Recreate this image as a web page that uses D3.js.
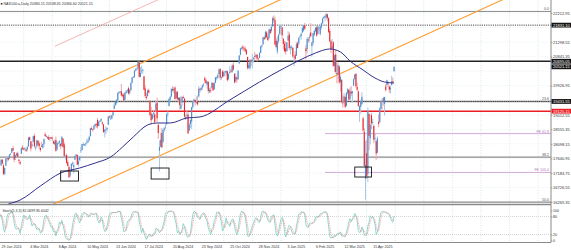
<!DOCTYPE html>
<html>
<head>
<meta charset="utf-8">
<script src="https://cdn.jsdelivr.net/npm/d3@7"></script>
<style>
html, body { margin: 0; padding: 0; background: #fff; }
svg { display: block; font-family: "Liberation Sans", Arial, sans-serif; }
</style>
</head>
<body>
<div id="chart"></div>
<script>
// ---- chart data ----
const title = 'NAS100.a,Daily  20384.15 20538.65 20366.60 20521.15';
const stochTitle = 'Stoch(5,3,3) 82.0699 85.6042';

const dateTickBars = [0, 24, 48, 72, 96, 120, 144, 168, 192, 216, 240, 264, 288, 312];
const dateTickLabels = ['29 Jan 2024', '4 Mar 2024', '8 Apr 2024', '10 May 2024', '13 Jun 2024',
    '17 Jul 2024', '20 Aug 2024', '23 Sep 2024', '25 Oct 2024', '28 Nov 2024', '3 Jan 2025',
    '6 Feb 2025', '12 Mar 2025', '15 Apr 2025'];

const priceTicks = [16269.35, 16726.55, 17183.75, 17640.95, 18098.15, 18555.35, 19012.55,
    19469.75, 19926.95, 20384.15, 20841.35, 21298.55, 21755.75, 22212.95];
const stochTicks = [0, 20, 80, 100];

// horizontal line objects
const dottedLevels = [21831.10, 19431.55];
const blackLevels = [20695.05];
const redLevels = [19125.15];
const bidPrice = 20521.15;

// fibonacci retracement
const fibHigh = 22262, fibLow = 10268.6;
const fibRatios = [0, 23.6, 38.2, 50.0];
// fibonacci expansion
const feLabels = ['FE 61.8', 'FE 100.0'];
const fePrices = [18420, 17200];
const feStartBar = 272;

// trend lines [bar, price]
const channelLower = [[133, 17720], [329, 21060]];
const channelUpper = [[50, 19486], [115, 20593]];
const pinkRay = [[45, 21166], [111, 22280]];

// marked zones [fromBar, toBar, top, bottom]
const zones = [[50, 65, 17244, 16929], [126, 141, 17338, 16992], [297, 311, 17369, 17055]];

// moving average [bar, value]
const maPoints = [[6, 16206], [16, 16332], [33, 16773], [50, 17182], [66, 17339], [79, 17496],
    [92, 17685], [102, 17999], [111, 18314], [123, 18691], [131, 18754], [142, 18754],
    [156, 18911], [167, 18943], [192, 19477], [217, 20043], [238, 20484], [251, 20735],
    [264, 20955], [276, 21081], [285, 20987], [293, 20704], [304, 20420], [314, 20168],
    [322, 20043], [330, 20012]];

// bars left of the visible window (needed by the stochastic)
const warmup = [
[16850,16900,16760,16830],[16830,16880,16720,16850],[16800,16850,16700,16800],
[16830,17020,16800,17020],[17040,17330,17000,17310],[17340,17400,17290,17330],
[17330,17400,17270,17380],[17440,17550,17420,17450],[17470,17520,17380,17500],
[17490,17550,17410,17420]];

// daily [open, high, low, close], 29 Jan 2024 .. 12 May 2025
const ohlc = [
// Jan 29 - Mar 1
[17420,17610,17400,17600],[17600,17620,17470,17480],[17420,17480,17130,17140],[17160,17360,17110,17340],
[17410,17660,17390,17640],[17620,17700,17530,17650],[17660,17690,17560,17600],[17640,17780,17620,17760],
[17770,17810,17730,17790],[17820,17960,17810,17960],[17960,18040,17880,17880],[17830,17840,17520,17600],
[17660,17760,17590,17740],[17730,17830,17700,17800],[17800,17850,17650,17690],[17600,17620,17480,17560],
[17530,17560,17430,17480],[17790,17990,17770,17960],[17980,18060,17900,17940],[17940,18000,17900,17930],
[17940,17990,17880,17960],[17920,17950,17850,17870],[17920,18040,17860,18000],[18020,18300,18000,18300],
// Mar 4 - Apr 5
[18300,18330,18200,18220],[18180,18190,17860,17950],[18040,18160,17990,18080],[18160,18360,18150,18340],
[18350,18420,17980,18020],[17980,18040,17890,17980],[18020,18230,17970,18210],[18200,18210,18040,18070],
[18110,18170,17930,18020],[17970,18000,17850,17900],[18030,18160,18010,18020],[17980,18100,17940,18090],
[18090,18260,18020,18250],[18400,18460,18320,18340],[18330,18380,18300,18340],[18300,18340,18250,18280],
[18310,18370,18230,18230],[18280,18310,18180,18300],[18300,18320,18250,18260],[18290,18330,18180,18280],
[18180,18200,18090,18110],[18080,18230,18050,18160],[18220,18330,17850,17880],[17920,18170,17890,18120],
// Apr 8 - May 9
[18130,18170,18080,18130],[18140,18210,18000,18190],[18100,18120,17930,18030],[18050,18340,18000,18320],
[18260,18280,17980,18000],[18080,18150,17700,17710],[17700,17750,17600,17700],[17740,17790,17490,17490],
[17520,17580,17390,17400],[17370,17420,17040,17040],[17100,17270,17050,17210],[17240,17490,17230,17470],
[17480,17540,17410,17500],[17360,17520,17170,17430],[17600,17740,17580,17720],[17720,17780,17660,17760],
[17750,17760,17440,17440],[17460,17700,17380,17540],[17590,17720,17540,17690],[17880,18000,17810,17890],
[17900,18090,17900,18090],[18090,18150,18040,18090],[18050,18100,18030,18080],[18090,18130,18020,18110],
// May 10 - Jun 12
[18130,18250,18080,18160],[18160,18270,18120,18200],[18210,18350,18170,18320],[18340,18600,18330,18590],
[18590,18650,18540,18550],[18560,18570,18480,18550],[18550,18700,18550,18670],[18660,18740,18620,18720],
[18710,18750,18600,18690],[18850,18910,18580,18650],[18660,18810,18650,18800],[18800,18850,18790,18830],
[18830,18900,18780,18880],[18770,18800,18680,18730],[18710,18720,18440,18470],[18480,18560,18300,18540],
[18560,18650,18400,18560],[18560,18620,18480,18600],[18700,18960,18690,18960],[18960,18990,18900,18940],
[18920,19000,18850,18920],[18900,19010,18860,19000],[19000,19100,18970,19090],[19200,19400,19190,19310],
// Jun 13 - Jul 16
[19320,19410,19280,19410],[19380,19510,19330,19480],[19480,19710,19420,19700],[19700,19760,19650,19730],
[19730,19760,19710,19740],[19750,19980,19580,19620],[19630,19690,19560,19610],[19650,19690,19430,19460],
[19480,19720,19470,19710],[19700,19790,19660,19750],[19750,19830,19700,19780],[19850,19900,19650,19680],
[19700,19810,19640,19800],[19790,20040,19760,20010],[20020,20190,20000,20190],[20190,20230,20170,20200],
[20200,20420,20180,20390],[20400,20480,20380,20440],[20440,20510,20400,20460],[20470,20690,20440,20680],
[20660,20690,20180,20210],[20200,20520,20190,20330],[20380,20560,20300,20400],[20400,20460,20300,20430],
// Jul 17 - Aug 19
[20220,20240,19790,19800],[19840,19930,19550,19600],[19580,19700,19490,19530],[19600,19810,19580,19780],
[19780,19840,19700,19710],[19450,19470,18980,19010],[19050,19260,18710,18840],[18880,19050,18850,19020],
[19040,19130,18920,19060],[19020,19080,18720,18790],[19150,19470,19100,19360],[19390,19560,18790,18900],
[18700,18710,18250,18440],[17880,18210,17230,18000],[18010,18450,17990,18230],[18440,18600,17960,17990],
[18160,18570,18130,18530],[18530,18630,18470,18590],[18630,18730,18560,18640],[18720,19050,18690,19030],
[19060,19120,18950,19060],[19290,19520,19270,19520],[19490,19610,19440,19580],[19590,19840,19560,19830],
// Aug 20 - Sep 20
[19820,19910,19740,19780],[19780,19890,19690,19830],[19870,19900,19480,19510],[19540,19770,19520,19720],
[19740,19750,19460,19500],[19470,19560,19400,19550],[19550,19560,19180,19320],[19200,19600,19180,19330],
[19400,19600,19300,19570],[19570,19620,19520,19540],[19520,19550,18910,18960],[18890,19020,18850,18950],
[18990,19140,18880,19010],[19020,19090,18410,18430],[18520,18750,18500,18700],[18720,18860,18600,18850],
[18800,19260,18560,19250],[19250,19440,19200,19420],[19430,19520,19410,19490],[19480,19490,19300,19410],
[19420,19590,19350,19420],[19440,19620,19300,19340],[19590,19920,19560,19830],[19830,19860,19710,19800],
// Sep 23 - Oct 24
[19800,19880,19760,19860],[19870,19970,19790,19940],[19940,20010,19900,19960],[20160,20220,20000,20090],
[20100,20160,19980,20010],[19960,20070,19840,20060],[20050,20060,19680,19760],[19740,19850,19690,19800],
[19780,19890,19700,19770],[19870,20050,19830,20020],[20010,20020,19760,19780],[19820,20040,19800,20010],
[20020,20200,20000,20190],[20160,20220,20090,20190],[20180,20310,20140,20270],[20290,20470,20280,20440],
[20450,20480,20100,20180],[20170,20220,20110,20200],[20380,20420,20180,20210],[20220,20380,20210,20350],
[20360,20390,20230,20380],[20330,20420,20250,20390],[20380,20390,20060,20100],[20140,20310,20100,20300],
// Oct 25 - Nov 27
[20330,20550,20300,20350],[20400,20460,20330,20370],[20360,20620,20330,20550],[20580,20660,20400,20430],
[20290,20330,20000,20030],[20070,20330,20020,20200],[20180,20240,20020,20130],[20130,20420,20110,20400],
[20630,20880,20600,20880],[20900,21120,20880,21100],[21090,21160,21060,21120],[21150,21210,21030,21100],
[21100,21160,21000,21080],[21090,21160,20980,21020],[21040,21080,20890,20920],[20830,20840,20430,20480],
[20480,20650,20450,20580],[20480,20760,20420,20730],[20740,20770,20550,20710],[20730,20930,20470,20740],
[20770,20830,20650,20790],[20860,20990,20740,20840],[20840,20920,20800,20900],[20900,20920,20690,20780],
// Nov 28 - Jan 2
[20780,20810,20750,20770],[20800,20980,20790,20960],[20960,21180,20950,21170],[21170,21220,21100,21200],
[21230,21450,21200,21450],[21440,21500,21370,21390],[21420,21660,21400,21620],[21600,21650,21420,21450],
[21450,21530,21330,21360],[21420,21720,21410,21690],[21700,21720,21570,21570],[21650,21870,21600,21780],
[21800,22100,21770,22050],[22040,22140,21930,21990],[21990,22100,21200,21220],[21340,21420,21100,21140],
[21000,21480,20920,21330],[21320,21560,21250,21530],[21540,21820,21540,21800],[21790,21850,21710,21800],
[21760,21770,21390,21510],[21400,21420,21060,21240],[21250,21340,20980,21010],[21100,21310,20900,21000],
// Jan 3 - Feb 5
[21020,21310,21000,21290],[21350,21640,21330,21490],[21540,21610,21050,21110],[21120,21190,20910,21140],
[21140,21200,21050,21150],[21120,21130,20800,20850],[20820,20860,20540,20840],[20900,21010,20720,20770],
[20870,21300,20860,21230],[21270,21320,21100,21110],[21260,21450,21200,21430],[21460,21520,21400,21480],
[21490,21600,21370,21560],[21600,21800,21580,21740],[21660,21830,21620,21820],[21830,21900,21680,21720],
[21100,21210,20750,21010],[21080,21450,20940,21400],[21380,21460,21270,21350],[21450,21550,21310,21460],
[21600,21890,21450,21480],[21170,21250,20840,21300],[21270,21590,21200,21580],[21520,21680,21470,21650],
// Feb 6 - Mar 11
[21640,21770,21600,21750],[21760,21820,21470,21500],[21550,21810,21540,21790],[21730,21800,21640,21750],
[21550,21830,21510,21790],[21760,21910,21700,21890],[21890,22080,21870,22040],[22050,22110,22030,22090],
[22080,22150,21950,22120],[22080,22220,22010,22180],[22170,22190,21940,22050],[22050,22080,21580,21620],
[21650,21720,21280,21330],[21330,21360,20950,21080],[21100,21400,21040,21170],[21290,21330,20520,20550],
[20550,20910,20360,20880],[20910,21060,20310,20360],[20330,20650,20000,20280],[20270,20650,20150,20570],
[20530,20570,19990,20030],[20040,20270,19740,20200],[20110,20130,19370,19410],[19400,19620,19240,19380],
// Mar 12 - Apr 14
[19420,19700,19330,19590],[19570,19620,19220,19260],[19290,19730,19280,19700],[19700,19860,19640,19810],
[19800,19820,19450,19490],[19500,19870,19480,19760],[19740,19910,19600,19680],[19690,19760,19400,19750],
[19930,20160,19920,20130],[20140,20300,20100,20280],[20300,20320,19870,19910],[19890,20020,19760,19800],
[19750,19780,19260,19290],[19130,19310,18790,19280],[19260,19490,19050,19440],[19350,19720,19320,19580],
[18900,18950,18480,18520],[18480,18590,17390,17400],[17000,18190,16340,17430],[17800,18230,17000,17090],
[17150,19240,16900,19140],[19040,19050,17900,18350],[18280,18750,18080,18690],[19000,19070,18560,18750],
// Apr 15 - May 12
[18760,18880,18700,18780],[18660,18700,18120,18230],[18270,18420,18150,18270],[18180,18220,17600,17790],
[17820,18330,17820,18270],[18790,19020,18620,18730],[18790,19250,18740,19210],[19200,19460,19130,19430],
[19450,19530,19180,19420],[19400,19580,19300,19540],[19350,19580,18990,19570],[19900,19980,19740,19790],
[19950,20120,19900,20100],[20000,20060,19890,19990],[19900,19940,19700,19800],[19820,19920,19680,19860],
[19950,20240,19930,20070],[20070,20180,20000,20060],[20384,20539,20367,20521]
];

// ---- layout ----
const width = 571, height = 250;
const plotRight = 551;
const mainBottom = 204, subTop = 205, subBottom = 242.5;

const svg = d3.select('#chart').append('svg')
    .attr('width', width)
    .attr('height', height);

const defs = svg.append('defs');
defs.append('clipPath').attr('id', 'mainClip')
    .append('rect').attr('x', 0).attr('y', 0).attr('width', plotRight).attr('height', mainBottom);
defs.append('clipPath').attr('id', 'subClip')
    .append('rect').attr('x', 0).attr('y', subTop).attr('width', plotRight).attr('height', subBottom - subTop);

const barSpacing = 1.1908;
const x = d3.scaleLinear().domain([0, 330]).range([1.1, 1.1 + 330 * barSpacing]);
const y = d3.scaleLinear().domain([priceTicks[0], priceTicks[priceTicks.length - 1]]).range([202, 13]);
const yStoch = d3.scaleLinear().domain([0, 100]).range([240.5, 210.5]);

// vertical grid (one line every 24 bars, continues past the last bar)
const gridBars = d3.range(0, 20).map(k => k * 24);
svg.append('g')
    .selectAll('line')
    .data(gridBars)
    .join('line')
    .attr('x1', d => x(d) - 6)
    .attr('x2', d => x(d) - 6)
    .attr('y1', 0)
    .attr('y2', subBottom)
    .attr('stroke', '#c9dfe0')
    .attr('stroke-width', 0.7)
    .attr('stroke-dasharray', '1,1.5');

// horizontal grid at price labels
svg.append('g')
    .selectAll('line')
    .data(priceTicks)
    .join('line')
    .attr('x1', 0)
    .attr('x2', plotRight)
    .attr('y1', d => y(d))
    .attr('y2', d => y(d))
    .attr('stroke', '#dbe8e9')
    .attr('stroke-width', 0.6)
    .attr('stroke-dasharray', '1,1.5');

const main = svg.append('g').attr('clip-path', 'url(#mainClip)');

// fibonacci retracement levels
const fibPrice = r => fibHigh - (fibHigh - fibLow) * r / 100;
main.append('g')
    .selectAll('line')
    .data(fibRatios)
    .join('line')
    .attr('x1', 0)
    .attr('x2', plotRight)
    .attr('y1', d => y(fibPrice(d)))
    .attr('y2', d => y(fibPrice(d)))
    .attr('stroke', '#8c8c8c')
    .attr('stroke-width', d => d === 0 ? 1 : 1.4);

// dotted horizontal lines
main.append('g')
    .selectAll('line')
    .data(dottedLevels)
    .join('line')
    .attr('x1', 0).attr('x2', plotRight)
    .attr('y1', d => y(d)).attr('y2', d => y(d))
    .attr('stroke', '#3a3a3a')
    .attr('stroke-width', 0.9)
    .attr('stroke-dasharray', '1.2,1');

main.append('g')
    .selectAll('line')
    .data(blackLevels)
    .join('line')
    .attr('x1', 0).attr('x2', plotRight)
    .attr('y1', d => y(d)).attr('y2', d => y(d))
    .attr('stroke', '#222')
    .attr('stroke-width', 1.6);

main.append('g')
    .selectAll('line')
    .data(redLevels)
    .join('line')
    .attr('x1', 0).attr('x2', plotRight)
    .attr('y1', d => y(d)).attr('y2', d => y(d))
    .attr('stroke', '#ec1c24')
    .attr('stroke-width', 1.6);

// fibonacci expansion lines
main.append('g')
    .selectAll('line')
    .data(fePrices)
    .join('line')
    .attr('x1', x(feStartBar)).attr('x2', plotRight)
    .attr('y1', d => y(d)).attr('y2', d => y(d))
    .attr('stroke', '#cf9fd6')
    .attr('stroke-width', 0.9);

// trend lines, extended through the panel
function extendLine(pts, fromBar, toBar) {
    const [[b1, p1], [b2, p2]] = pts;
    const k = (p2 - p1) / (b2 - b1);
    return [[fromBar, p1 + (fromBar - b1) * k], [toBar, p1 + (toBar - b1) * k]];
}
const lineGen = d3.line().x(d => x(d[0])).y(d => y(d[1]));

[channelLower, channelUpper].forEach(pts => {
    main.append('path')
        .attr('d', lineGen(extendLine(pts, -5, 480)))
        .attr('fill', 'none')
        .attr('stroke', '#ff9d2e')
        .attr('stroke-width', 1.1);
});
main.append('path')
    .attr('d', lineGen(extendLine(pinkRay, pinkRay[0][0], 480)))
    .attr('fill', 'none')
    .attr('stroke', '#f3a3a6')
    .attr('stroke-width', 0.8);

// candles
const bars = ohlc.map((d, i) => ({ i: i, o: d[0], h: d[1], l: d[2], c: d[3] }));

main.append('g')
    .selectAll('line')
    .data(bars)
    .join('line')
    .attr('x1', d => x(d.i)).attr('x2', d => x(d.i))
    .attr('y1', d => y(d.h)).attr('y2', d => y(d.l))
    .attr('stroke', d => d.c >= d.o ? '#a9c7e6' : '#f4a3a5')
    .attr('stroke-width', 1);

main.append('g')
    .selectAll('rect')
    .data(bars)
    .join('rect')
    .attr('x', d => x(d.i) - 0.55)
    .attr('width', 1.1)
    .attr('y', d => y(Math.max(d.o, d.c)))
    .attr('height', d => Math.max(0.8, Math.abs(y(d.o) - y(d.c))))
    .attr('fill', d => d.c >= d.o ? '#4f8ccc' : '#e8262c');

// moving average
main.append('path')
    .datum(maPoints)
    .attr('d', d3.line().x(d => x(d[0])).y(d => y(d[1])).curve(d3.curveMonotoneX))
    .attr('fill', 'none')
    .attr('stroke', '#2f2f8c')
    .attr('stroke-width', 1);

// marked zones
main.append('g')
    .selectAll('rect')
    .data(zones)
    .join('rect')
    .attr('x', d => x(d[0]))
    .attr('y', d => y(d[2]))
    .attr('width', d => x(d[1]) - x(d[0]))
    .attr('height', d => y(d[3]) - y(d[2]))
    .attr('fill', 'none')
    .attr('stroke', '#111')
    .attr('stroke-width', 0.9);

// level captions at the right edge
const fibText = svg.append('g')
    .attr('font-size', '3.6px')
    .attr('text-anchor', 'end');
fibText.selectAll('text')
    .data(fibRatios)
    .join('text')
    .attr('x', plotRight - 2)
    .attr('y', d => y(fibPrice(d)) - 1)
    .attr('fill', '#555')
    .text(d => d.toFixed(1));
fibText.append('g')
    .selectAll('text')
    .data(fePrices)
    .join('text')
    .attr('x', plotRight - 2)
    .attr('y', d => y(d) - 1)
    .attr('fill', '#b07cb8')
    .text((d, i) => feLabels[i]);

// separators and frame
svg.append('line')
    .attr('x1', 0).attr('x2', plotRight)
    .attr('y1', mainBottom + 0.5).attr('y2', mainBottom + 0.5)
    .attr('stroke', '#8a8a8a').attr('stroke-width', 1.5);
svg.append('line')
    .attr('x1', 0).attr('x2', plotRight)
    .attr('y1', subBottom).attr('y2', subBottom)
    .attr('stroke', '#8a8a8a').attr('stroke-width', 1);
svg.append('line')
    .attr('x1', plotRight).attr('x2', plotRight)
    .attr('y1', 0).attr('y2', subBottom)
    .attr('stroke', '#8a8a8a').attr('stroke-width', 1);

// ---- stochastic (5,3,3) computed from the bars ----
const all = warmup.concat(ohlc);
const raw = all.map((d, j) => {
    if (j < 4) return null;
    const win = all.slice(j - 4, j + 1);
    const hh = d3.max(win, w => w[1]);
    const ll = d3.min(win, w => w[2]);
    return { num: d[3] - ll, den: hh - ll };
});
const kLine = raw.map((r, j) => {
    if (j < 6) return null;
    const s = raw.slice(j - 2, j + 1);
    const den = d3.sum(s, v => v.den);
    return den === 0 ? 100 : 100 * d3.sum(s, v => v.num) / den;
});
const dLine = kLine.map((v, j) => (j < 8 ? null : d3.mean(kLine.slice(j - 2, j + 1))));
const off = warmup.length;
const kPts = kLine.map((v, j) => [j - off, v]).filter(p => p[1] !== null);
const dPts = dLine.map((v, j) => [j - off, v]).filter(p => p[1] !== null);

const sub = svg.append('g').attr('clip-path', 'url(#subClip)');
sub.append('g')
    .selectAll('line')
    .data([20, 80])
    .join('line')
    .attr('x1', 0).attr('x2', plotRight)
    .attr('y1', d => yStoch(d)).attr('y2', d => yStoch(d))
    .attr('stroke', '#b8b8b8')
    .attr('stroke-width', 0.6)
    .attr('stroke-dasharray', '1,1');
const stochLine = d3.line().x(d => x(d[0])).y(d => yStoch(d[1]));
sub.append('path')
    .attr('d', stochLine(kPts))
    .attr('fill', 'none')
    .attr('stroke', '#72d1c4')
    .attr('stroke-width', 0.8);
sub.append('path')
    .attr('d', stochLine(dPts))
    .attr('fill', 'none')
    .attr('stroke', '#f27b7b')
    .attr('stroke-width', 0.7)
    .attr('stroke-dasharray', '1,0.8');

svg.append('text')
    .attr('x', 2.5).attr('y', 211.5)
    .attr('font-size', '3.5px')
    .attr('fill', '#333')
    .text(stochTitle);

// ---- axes ----
const boxLevels = dottedLevels.concat(blackLevels, redLevels);
const hidden = p => boxLevels.some(b => Math.abs(y(p) - y(b)) < 3.4) || Math.abs(y(p) - y(bidPrice)) < 5;

const yAxis = d3.axisRight(y)
    .tickValues(priceTicks.filter(p => !hidden(p)))
    .tickSize(1.5)
    .tickFormat(d3.format('.2f'));
const yAxisG = svg.append('g')
    .attr('transform', `translate(${plotRight},0)`)
    .call(yAxis);
yAxisG.select('.domain').remove();
yAxisG.selectAll('line').attr('stroke', '#777').attr('stroke-width', 0.6);
yAxisG.selectAll('text')
    .attr('x', 2)
    .attr('font-size', '4px')
    .attr('font-family', '"Liberation Sans", Arial, sans-serif')
    .attr('fill', '#333');

const sAxis = d3.axisRight(yStoch)
    .tickValues(stochTicks)
    .tickSize(1.5)
    .tickFormat(d3.format('d'));
const sAxisG = svg.append('g')
    .attr('transform', `translate(${plotRight},0)`)
    .call(sAxis);
sAxisG.select('.domain').remove();
sAxisG.selectAll('line').attr('stroke', '#777').attr('stroke-width', 0.6);
sAxisG.selectAll('text')
    .attr('x', 2)
    .attr('font-size', '3.6px')
    .attr('font-family', '"Liberation Sans", Arial, sans-serif')
    .attr('fill', '#333');

// price boxes for line objects and bid
const boxes = boxLevels.map(p => ({ p: p, red: redLevels.includes(p) })).concat([{ p: bidPrice, red: false }]);
const boxG = svg.append('g');
boxG.selectAll('rect')
    .data(boxes)
    .join('rect')
    .attr('x', plotRight + 0.5)
    .attr('y', d => y(d.p) - 2.4)
    .attr('width', 19.5)
    .attr('height', 4.8)
    .attr('fill', d => d.red ? '#ec1c24' : '#151515');
boxG.selectAll('text')
    .data(boxes)
    .join('text')
    .attr('x', plotRight + 2)
    .attr('y', d => y(d.p) + 1.4)
    .attr('font-size', '4px')
    .attr('fill', '#fff')
    .text(d => d.p.toFixed(2));

const xAxis = d3.axisBottom(x)
    .tickValues(dateTickBars)
    .tickSize(0)
    .tickFormat((d, i) => dateTickLabels[i]);
const xAxisG = svg.append('g')
    .attr('transform', `translate(0,${subBottom})`)
    .call(xAxis);
xAxisG.select('.domain').remove();
xAxisG.selectAll('text')
    .attr('text-anchor', 'start')
    .attr('y', 5.5)
    .attr('dy', 0)
    .attr('font-size', '3.6px')
    .attr('font-family', '"Liberation Sans", Arial, sans-serif')
    .attr('fill', '#333');

// title
svg.append('rect')
    .attr('x', 0.8).attr('y', 3).attr('width', 1.6).attr('height', 1.6)
    .attr('fill', '#333');
svg.append('text')
    .attr('x', 3.5).attr('y', 5.3)
    .attr('font-size', '3.6px')
    .attr('fill', '#333')
    .text(title);
</script>
</body>
</html>
